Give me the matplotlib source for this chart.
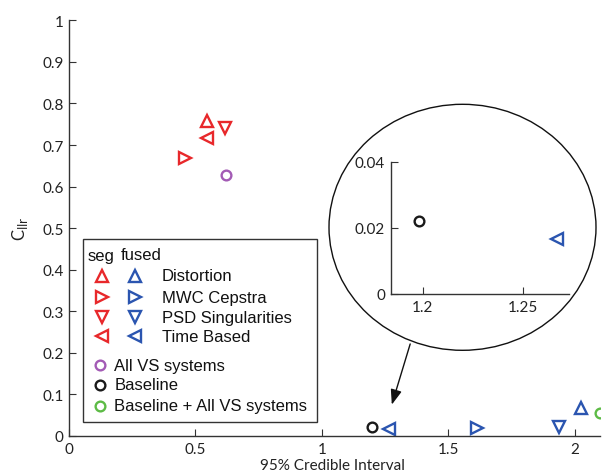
import matplotlib
matplotlib.use("Agg")
import matplotlib.pyplot as plt
from matplotlib.patches import Rectangle, Ellipse, FancyArrowPatch
from matplotlib.lines import Line2D

# ---------------- data ----------------
features = ["Distortion", "MWC Cepstra", "PSD Singularities", "Time Based"]
markers = ["^", ">", "v", "<"]
seg_x = [0.545, 0.458, 0.615, 0.547]
seg_y = [0.758, 0.669, 0.740, 0.717]
fused_x = [2.026, 1.613, 1.936, 1.267]
fused_y = [0.067, 0.020, 0.021, 0.0165]
combo_labels = ["All VS systems", "Baseline", "Baseline + All VS systems"]
combo_x = [0.619, 1.198, 2.10]
combo_y = [0.627, 0.022, 0.055]
xticks = [0, 0.5, 1, 1.5, 2]
yticks = [0, 0.1, 0.2, 0.3, 0.4, 0.5, 0.6, 0.7, 0.8, 0.9, 1]
inset_xticks = [1.2, 1.25]
inset_yticks = [0, 0.02, 0.04]

RED = "#E8282B"
BLUE = "#2B55B0"
combo_colors = ["#A35BB5", "#1A1A1A", "#5DBB46"]

W, H = 602, 477
TICKFONT = "Lato"
LEGFONT = "Liberation Sans"

def fx(x):
    return x / W

def fy(y):
    return 1 - y / H

fig = plt.figure(figsize=(W / 100, H / 100), dpi=100)
ax = fig.add_axes([fx(69), fy(437), (600 - 69) / W, (437 - 21.3) / H])

ms_tri = 8.5
ms_c = 7
mew = 1.7

for i in range(4):
    ax.plot(seg_x[i], seg_y[i], linestyle="none", marker=markers[i], ms=ms_tri,
            mfc="none", mec=RED, mew=mew, clip_on=True)
    ax.plot(fused_x[i], fused_y[i], linestyle="none", marker=markers[i], ms=ms_tri,
            mfc="none", mec=BLUE, mew=mew, clip_on=True)
for i in range(3):
    ax.plot(combo_x[i], combo_y[i], linestyle="none", marker="o", ms=ms_c,
            mfc="none", mec=combo_colors[i], mew=mew, clip_on=True)

ax.set_xlim(0, 2.1)
ax.set_ylim(0, 1)
ax.set_xticks(xticks)
ax.set_xticklabels(["0", "0.5", "1", "1.5", "2"])
ax.set_yticks(yticks)
ax.set_yticklabels(["0"] + ["%.1f" % v for v in yticks[1:-1]] + ["1"])
for s in ["top", "right"]:
    ax.spines[s].set_visible(False)
for s in ["left", "bottom"]:
    ax.spines[s].set_color("#333333")
    ax.spines[s].set_linewidth(1.0)
ax.tick_params(direction="in", length=5, width=0.8, colors="#333333",
               labelsize=11, pad=4)
for lab in ax.get_xticklabels() + ax.get_yticklabels():
    lab.set_fontfamily(TICKFONT)
    lab.set_color("#222222")
fig.text(fx(332), fy(466), "95% Credible Interval", fontsize=11, family=TICKFONT,
         color="#222222", ha="center", va="center")
ax.set_ylabel(r"C$_{\mathrm{llr}}$", fontsize=12, family=TICKFONT,
              color="#222222", labelpad=9)

# ---------------- inset (zoom circle) ----------------
ell = Ellipse((fx(462.5), fy(228.3)), 267 / W, 246 / H, transform=fig.transFigure,
              facecolor="white", edgecolor="#111111", linewidth=1.0, zorder=3)
fig.add_artist(ell)

iax = fig.add_axes([fx(390.7), fy(295), (569.3 - 390.7) / W, (295 - 162.7) / H],
                   zorder=4)
iax.set_facecolor("none")
iax.plot(combo_x[1], combo_y[1], linestyle="none", marker="o", ms=ms_c,
         mfc="none", mec=combo_colors[1], mew=mew)
iax.plot(fused_x[3], fused_y[3], linestyle="none", marker=markers[3], ms=ms_tri,
         mfc="none", mec=BLUE, mew=mew)
iax.set_xlim(1.184, 1.273)
iax.set_ylim(0, 0.04)
iax.set_xticks(inset_xticks)
iax.set_xticklabels(["1.2", "1.25"])
iax.set_yticks(inset_yticks)
iax.set_yticklabels(["0", "0.02", "0.04"])
for s in ["top", "right"]:
    iax.spines[s].set_visible(False)
for s in ["left", "bottom"]:
    iax.spines[s].set_color("#333333")
    iax.spines[s].set_linewidth(1.0)
iax.tick_params(direction="in", length=5, width=0.8, colors="#333333",
                labelsize=11, pad=4)
for lab in iax.get_xticklabels() + iax.get_yticklabels():
    lab.set_fontfamily(TICKFONT)
    lab.set_color("#222222")

arrow = FancyArrowPatch((fx(411), fy(342.3)), (fx(391), fy(408.3)),
                        transform=fig.transFigure,
                        arrowstyle="-|>,head_length=7,head_width=2.6",
                        color="#111111", linewidth=1.0, mutation_scale=1.3, zorder=5)
fig.add_artist(arrow)

# ---------------- custom legend ----------------
box = Rectangle((fx(82.7), fy(423.3)), (317 - 82.7) / W, (423.3 - 240) / H,
                transform=fig.transFigure, facecolor="white", edgecolor="#333333",
                linewidth=1.0, zorder=5)
fig.add_artist(box)

LFS = 12
fig.text(fx(87.5), fy(256), "seg", fontsize=LFS, family=LEGFONT, va="center",
         ha="left", color="#111111", zorder=6)
fig.text(fx(121), fy(256), "fused", fontsize=LFS, family=LEGFONT, va="center",
         ha="left", color="#111111", zorder=6)
rows_y = [276.5, 298.3, 318.3, 337.3]
for i in range(4):
    fig.add_artist(Line2D([fx(102.3)], [fy(rows_y[i])], marker=markers[i], ms=ms_tri,
                          mfc="none", mec=RED, mew=mew, transform=fig.transFigure,
                          zorder=6))
    fig.add_artist(Line2D([fx(135)], [fy(rows_y[i])], marker=markers[i], ms=ms_tri,
                          mfc="none", mec=BLUE, mew=mew, transform=fig.transFigure,
                          zorder=6))
    fig.text(fx(161.5), fy(rows_y[i]), features[i], fontsize=LFS, family=LEGFONT,
             va="center", ha="left", color="#111111", zorder=6)
crow_y = [366, 386, 406.7]
for i in range(3):
    fig.add_artist(Line2D([fx(100)], [fy(crow_y[i])], marker="o", ms=ms_c,
                          mfc="none", mec=combo_colors[i], mew=mew,
                          transform=fig.transFigure, zorder=6))
    fig.text(fx(114.3), fy(crow_y[i]), combo_labels[i], fontsize=LFS, family=LEGFONT,
             va="center", ha="left", color="#111111", zorder=6)

fig.savefig("out.png", dpi=100)
